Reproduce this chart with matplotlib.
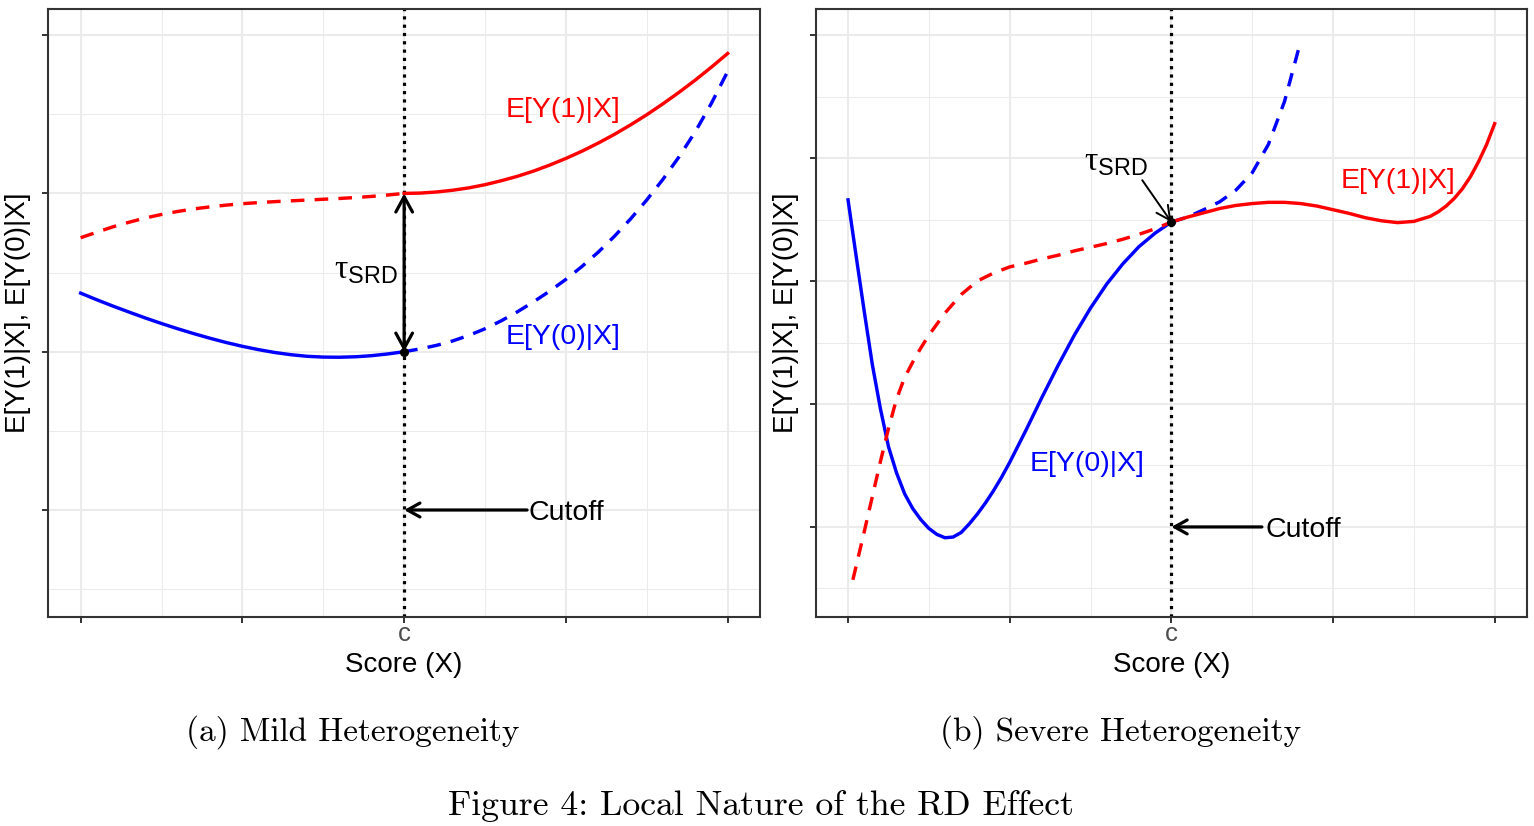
import matplotlib
matplotlib.use('Agg')
import matplotlib.pyplot as plt

plt.rcParams['font.family'] = ['Liberation Sans', 'DejaVu Sans']
plt.rcParams['mathtext.fontset'] = 'custom'
plt.rcParams['mathtext.rm'] = 'Liberation Serif'
plt.rcParams['mathtext.sf'] = 'Liberation Sans'

# ---- data ----
cutoff = 2.0
x_major = [0, 1, 2, 3, 4]
x_labels = ['', '', 'c', '', '']
x_minor = [0.5, 1.5, 2.5, 3.5]

# (a) mild heterogeneity
mild_x_below = [0.0, 0.1, 0.2, 0.3, 0.4, 0.5, 0.6, 0.7, 0.8, 0.9, 1.0,
                1.1, 1.2, 1.3, 1.4, 1.5, 1.6, 1.7, 1.8, 1.9, 2.0]
mild_x_above = [2.0, 2.1, 2.2, 2.3, 2.4, 2.5, 2.6, 2.7, 2.8, 2.9, 3.0,
                3.1, 3.2, 3.3, 3.4, 3.5, 3.6, 3.7, 3.8, 3.9, 4.0]
mild_y1_below = [1.72, 1.755, 1.789, 1.818, 1.845, 1.867, 1.886, 1.902, 1.915, 1.926, 1.935,
                 1.942, 1.948, 1.953, 1.958, 1.963, 1.968, 1.974, 1.981, 1.99, 2.0]
mild_y1_above = [2.0, 2.002, 2.009, 2.02, 2.035, 2.055, 2.08, 2.108, 2.141, 2.179, 2.221,
                 2.267, 2.318, 2.373, 2.433, 2.497, 2.566, 2.639, 2.716, 2.798, 2.884]
mild_y0_below = [1.37, 1.328, 1.288, 1.25, 1.213, 1.178, 1.145, 1.114, 1.085, 1.058, 1.034,
                 1.013, 0.995, 0.981, 0.971, 0.966, 0.965, 0.968, 0.975, 0.986, 1.0]
mild_y0_above = [1.0, 1.018, 1.04, 1.068, 1.103, 1.145, 1.195, 1.252, 1.315, 1.383, 1.457,
                 1.539, 1.629, 1.729, 1.839, 1.959, 2.089, 2.232, 2.39, 2.57, 2.77]
mild_yticks = [0, 1, 2, 3]
mild_yminor = [-0.5, 0.5, 1.5, 2.5]

# (b) severe heterogeneity
sev_x0_below = [0.0, 0.05, 0.1, 0.15, 0.2, 0.25, 0.3, 0.35, 0.4, 0.45, 0.5, 0.55, 0.6,
                0.65, 0.7, 0.75, 0.8, 0.85, 0.9, 0.95, 1.0,
                1.1, 1.2, 1.3, 1.4, 1.5, 1.6, 1.7, 1.8, 1.9, 2.0]
sev_y0_below = [2.66, 2.204, 1.755, 1.323, 0.964, 0.654, 0.44, 0.27, 0.15, 0.06, -0.012, -0.061, -0.088,
                -0.082, -0.045, 0.025, 0.105, 0.195, 0.295, 0.405, 0.525,
                0.785, 1.055, 1.315, 1.56, 1.78, 1.975, 2.14, 2.28, 2.39, 2.48]
sev_x0_above = [2.0, 2.1, 2.2, 2.3, 2.4, 2.5, 2.6, 2.7, 2.8]
sev_y0_above = [2.48, 2.52, 2.58, 2.645, 2.74, 2.88, 3.11, 3.46, 3.95]
sev_x1_below = [0.03, 0.1, 0.2, 0.25, 0.3, 0.35, 0.4, 0.45, 0.5, 0.6, 0.7, 0.8, 0.9, 1.0,
                1.1, 1.2, 1.3, 1.4, 1.5, 1.6, 1.7, 1.8, 1.9, 2.0]
sev_y1_below = [-0.43, -0.04, 0.53, 0.80, 1.04, 1.215, 1.34, 1.455, 1.56, 1.74, 1.89, 2.0, 2.065, 2.115,
                2.145, 2.18, 2.21, 2.245, 2.275, 2.305, 2.34, 2.38, 2.425, 2.48]
sev_x1_above = [2.0, 2.1, 2.2, 2.3, 2.4, 2.5, 2.6, 2.7, 2.8, 2.9, 3.0,
                3.1, 3.2, 3.3, 3.4, 3.5, 3.6, 3.65, 3.7, 3.75, 3.8, 3.85, 3.9, 3.95, 4.0]
sev_y1_above = [2.48, 2.52, 2.555, 2.59, 2.615, 2.63, 2.64, 2.64, 2.63, 2.61, 2.58,
                2.55, 2.515, 2.49, 2.475, 2.485, 2.525, 2.562, 2.61, 2.672, 2.75, 2.848, 2.97, 3.11, 3.28]
sev_yticks = [0, 1, 2, 3, 4]
sev_yminor = [-0.5, 0.5, 1.5, 2.5, 3.5]

RED = '#FF0000'
BLUE = '#0000FF'
DASH = (0, (4.0, 3.0))
LW = 2.45
W, H = 1534, 826
TAU = r'$\mathrm{\tau}_{\mathsf{SRD}}$'


def style_panel(ax, ylim, yticks, yminor):
    ax.set_xlim(-0.2, 4.2)
    ax.set_ylim(*ylim)
    ax.set_xticks(x_major)
    ax.set_xticklabels(x_labels)
    ax.set_xticks(x_minor, minor=True)
    ax.set_yticks(yticks)
    ax.set_yticklabels([])
    ax.set_yticks(yminor, minor=True)
    ax.grid(which='major', color='#EBEBEB', lw=1.5)
    ax.grid(which='minor', color='#EBEBEB', lw=0.75)
    ax.set_axisbelow(True)
    ax.tick_params(which='major', length=4.5, width=1.4, color='#333333',
                   labelsize=18.5, labelcolor='#4D4D4D', pad=-0.5)
    ax.tick_params(which='minor', length=0)
    for s in ax.spines.values():
        s.set_color('#333333')
        s.set_linewidth(1.5)
    ax.set_xlabel('Score (X)', fontsize=20)
    ax.set_ylabel('E[Y(1)|X], E[Y(0)|X]', fontsize=20)
    ax.xaxis.set_label_coords(0.5, -0.079)
    ax.xaxis.label.set_va('center')
    ax.yaxis.set_label_coords(-0.042, 0.5)
    ax.yaxis.label.set_va('center')
    ax.axvline(cutoff, color='black', lw=2.3, linestyle=(0, (1, 1.6)), zorder=2)


def cutoff_arrow(ax, x_tail, x_text):
    ax.annotate('', xy=(cutoff, 0), xytext=(x_tail, 0),
                arrowprops=dict(arrowstyle='->,head_length=0.45,head_width=0.25',
                                lw=2.3, color='black', shrinkA=0, shrinkB=0,
                                mutation_scale=20), zorder=4)
    ax.annotate('Cutoff', xy=(x_text, 0), xytext=(0, -2), textcoords='offset points',
                fontsize=20.5, ha='left', va='center')


fig = plt.figure(figsize=(W / 100, H / 100), dpi=100)
ax1 = fig.add_axes([48.3 / W, (H - 616.7) / H, 711.7 / W, 607.4 / H])
ax2 = fig.add_axes([815.7 / W, (H - 616.7) / H, 711.3 / W, 607.4 / H])

# ---- (a) ----
style_panel(ax1, (-0.674, 3.163), mild_yticks, mild_yminor)
ax1.plot(mild_x_below, mild_y1_below, color=RED, lw=LW, linestyle=DASH, zorder=3)
ax1.plot(mild_x_above, mild_y1_above, color=RED, lw=LW, zorder=3)
ax1.plot(mild_x_below, mild_y0_below, color=BLUE, lw=LW, zorder=3)
ax1.plot(mild_x_above, mild_y0_above, color=BLUE, lw=LW, linestyle=DASH, zorder=3)
ax1.annotate('', xy=(cutoff, mild_y0_above[0]), xytext=(cutoff, mild_y1_above[0]),
             arrowprops=dict(arrowstyle='<->,head_length=0.55,head_width=0.3',
                             lw=2.3, color='black', shrinkA=0, shrinkB=0,
                             mutation_scale=20), zorder=4)
ax1.plot(cutoff, mild_y0_above[0], 'o', color='black', ms=5.5, zorder=5)
ax1.text(1.765, 1.51, TAU, fontsize=24, ha='center', va='center')
ax1.text(2.98, 2.53, 'E[Y(1)|X]', color=RED, fontsize=20.5, ha='center', va='center')
ax1.text(2.98, 1.09, 'E[Y(0)|X]', color=BLUE, fontsize=20.5, ha='center', va='center')
cutoff_arrow(ax1, 2.76, 2.77)

# ---- (b) ----
style_panel(ax2, (-0.73, 4.21), sev_yticks, sev_yminor)
ax2.plot(sev_x0_below, sev_y0_below, color=BLUE, lw=LW, zorder=3)
ax2.plot(sev_x0_above, sev_y0_above, color=BLUE, lw=LW, linestyle=DASH, zorder=3)
ax2.plot(sev_x1_below, sev_y1_below, color=RED, lw=LW, linestyle=DASH, zorder=3)
ax2.plot(sev_x1_above, sev_y1_above, color=RED, lw=LW, zorder=3)
ax2.annotate('', xy=(cutoff, sev_y1_above[0]), xytext=(1.82, 2.82),
             arrowprops=dict(arrowstyle='->,head_length=0.5,head_width=0.25',
                             lw=1.4, color='black', shrinkA=0, shrinkB=0,
                             mutation_scale=20), zorder=4)
ax2.plot(cutoff, sev_y1_above[0], 'o', color='black', ms=5.5, zorder=5)
ax2.text(1.655, 2.96, TAU, fontsize=24, ha='center', va='center')
ax2.text(3.40, 2.81, 'E[Y(1)|X]', color=RED, fontsize=20.5, ha='center', va='center')
ax2.text(1.48, 0.51, 'E[Y(0)|X]', color=BLUE, fontsize=20.5, ha='center', va='center')
cutoff_arrow(ax2, 2.56, 2.58)

# ---- captions ----
fig.text(353 / W, 1 - 732 / H, '(a) Mild Heterogeneity', family='cmr10',
         fontsize=24, ha='center', va='center')
fig.text(1121 / W, 1 - 732 / H, '(b) Severe Heterogeneity', family='cmr10',
         fontsize=24, ha='center', va='center')
fig.text(761 / W, 1 - 806 / H, 'Figure 4: Local Nature of the RD Effect', family='cmr10',
         fontsize=25.7, ha='center', va='center')

fig.savefig('out.png', dpi=100)
